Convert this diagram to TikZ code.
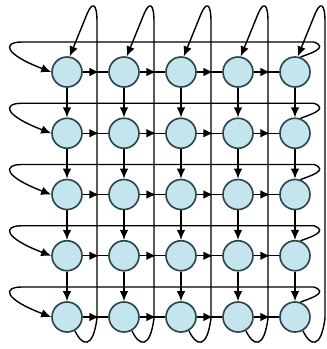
\documentclass[tikz,border=0pt]{standalone}
\usetikzlibrary{arrows.meta,decorations.markings}
\definecolor{cellblue}{RGB}{196,228,238}
\definecolor{cellrim}{RGB}{45,70,75}
\begin{document}
\begin{tikzpicture}[x = 0.3mm, y = -0.3mm, line width = 1.2pt,
	cell/.style = {circle, draw = cellrim, line width = 1.4pt, fill = cellblue, minimum size = 9mm, inner sep = 0pt},
	tip/.style = {-{Latex[length = 3mm, width = 2.6mm]}},
	midtip/.style = {postaction = {decorate}, decoration = {markings, mark = at position 0.65 with {\arrow{Latex[length = 3mm, width = 2.6mm]}}}}]
\useasboundingbox (0,0) rectangle (327,349);
\foreach \i in {1,...,5}
{
	\foreach \j in {1,...,5}
	{
		\node[cell] (n\i\j) at ({67+57*(\j-1)}, {72+61.25*(\i-1)}) {};
	}
}
\foreach \i in {1,...,5}
{
	\foreach \j [count = \k from 2] in {1,...,4}
	{
		\draw[midtip] (n\i\j) -- (n\i\k);
		\draw[tip] (n\j\i) -- (n\k\i);
	}
}
% wrap round, columns
\foreach \j in {1,...,5}
{
	\pgfmathsetmacro{\x}{67+57*(\j-1)}
	\draw[tip] (n5\j.-60) .. controls (\x+15,346) and (\x+26,350) .. (\x+30,318) -- (\x+30,22) .. controls (\x+30,2) and (\x+25,2) .. (\x+20,14) -- (n1\j.80);
}
% wrap round, rows
\foreach \i in {1,...,5}
{
	\pgfmathsetmacro{\y}{72+61.25*(\i-1)}
	\draw[tip] (n\i5.70) .. controls (308,\y-18) and (330,\y-24) .. (314,\y-30) -- (22,\y-30) .. controls (2,\y-30) and (4,\y-18) .. (n\i1.west);
}
\end{tikzpicture}
\end{document}
